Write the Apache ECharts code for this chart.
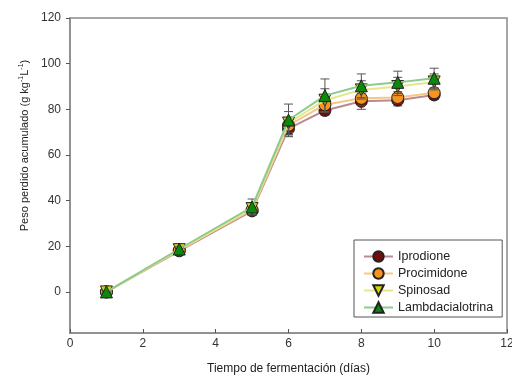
<!DOCTYPE html>
<html>
<head>
<meta charset="utf-8">
<script src="https://cdn.jsdelivr.net/npm/echarts@6/dist/echarts.min.js"></script>
<style>html,body{margin:0;padding:0;background:#fff}#c{width:512px;height:383px}</style>
</head>
<body>
<div id="c"></div>
<script>
var days = [1, 3, 5, 6, 7, 8, 9, 10];
var seriesNames = ['Iprodione', 'Procimidone', 'Spinosad', 'Lambdacialotrina'];
var iprodione = [0, 18.0, 35.5, 71.5, 79.5, 83.5, 84.0, 86.3];
var procimidone = [0, 18.3, 36.0, 73.0, 82.0, 84.8, 85.2, 87.3];
var spinosad = [0, 18.5, 36.5, 74.0, 84.0, 88.5, 90.0, 92.0];
var lambdacialotrina = [0, 18.8, 37.2, 75.3, 86.0, 90.3, 91.8, 93.6];
var errIprodione = [0.5, 1.0, 2.0, 3.5, 2.0, 3.5, 2.5, 2.0];
var errProcimidone = [0.5, 1.0, 2.0, 3.0, 2.0, 3.0, 2.5, 2.0];
var errSpinosad = [0.5, 1.0, 2.5, 5.0, 5.0, 4.0, 4.0, 3.5];
var errLambdacialotrina = [0.5, 1.0, 3.5, 7.0, 7.3, 5.2, 4.9, 4.4];
var yTickValues = [0, 20, 40, 60, 80, 100, 120];

var allValues = [iprodione, procimidone, spinosad, lambdacialotrina];
var allErrors = [errIprodione, errProcimidone, errSpinosad, errLambdacialotrina];
var fillColors = ['#7a0a0a', '#f7941d', '#d6d600', '#0a8a0a'];
var lineColors = ['#b88a92', '#f5c889', '#e6e68a', '#8ccb8c'];
var symbols = ['circle', 'circle', 'triangle', 'triangle'];
var symbolRotate = [0, 0, 180, 0];
var symbolSizes = [12, 12, 12, 12];

function pairs(vals) { return days.map(function (d, i) { return [d, vals[i]]; }); }

var series = [];
allValues.forEach(function (vals, k) {
  series.push({
    type: 'custom',
    silent: true,
    z: 2 + k * 2,
    data: days.map(function (d, i) { return [d, vals[i] - allErrors[k][i], vals[i] + allErrors[k][i]]; }),
    renderItem: function (params, api) {
      var x = api.value(0);
      var lo = api.coord([x, api.value(1)]);
      var hi = api.coord([x, api.value(2)]);
      var w = 4.5;
      var st = { stroke: '#555', lineWidth: 1 };
      return {
        type: 'group',
        children: [
          { type: 'line', shape: { x1: lo[0], y1: lo[1], x2: hi[0], y2: hi[1] }, style: st },
          { type: 'line', shape: { x1: hi[0] - w, y1: hi[1], x2: hi[0] + w, y2: hi[1] }, style: st },
          { type: 'line', shape: { x1: lo[0] - w, y1: lo[1], x2: lo[0] + w, y2: lo[1] }, style: st }
        ]
      };
    }
  });
});
allValues.forEach(function (vals, k) {
  series.push({
    name: seriesNames[k],
    type: 'line',
    z: 3 + k * 2,
    data: pairs(vals),
    symbol: symbols[k],
    symbolRotate: symbolRotate[k],
    symbolSize: symbolSizes[k],
    showSymbol: true,
    lineStyle: { color: lineColors[k], width: 2 },
    itemStyle: { color: fillColors[k], borderColor: '#222', borderWidth: 1 },
    emphasis: { disabled: true },
    animation: false
  });
});

var chart = echarts.init(document.getElementById('c'), null, { renderer: 'canvas' });
chart.setOption({
  animation: false,
  backgroundColor: '#fff',
  textStyle: { fontFamily: 'Liberation Sans, Arial, sans-serif' },
  grid: { left: 70, top: 18, width: 437, height: 315, outerBoundsMode: 'none', containLabel: false, show: true, borderColor: '#8a8a8a', borderWidth: 1.5, backgroundColor: 'transparent' },
  xAxis: {
    type: 'value', min: 0, max: 12, interval: 2,
    name: 'Tiempo de fermentación (días)', nameLocation: 'middle', nameGap: 30,
    nameTextStyle: { fontSize: 12, color: '#222' },
    axisLine: { show: true, onZero: false, lineStyle: { color: '#8a8a8a', width: 1.5 } },
    axisTick: { show: true, inside: true, length: 4, lineStyle: { color: '#555' } },
    axisLabel: { fontSize: 12, color: '#333', margin: 5 },
    splitLine: { show: false }
  },
  yAxis: {
    type: 'value', min: -18, max: 120,
    name: '{n|Peso perdido acumulado (g kg}{s|-1}{n|L}{s|-1}{n|)}', nameLocation: 'middle', nameGap: 39,
    nameTextStyle: {
      padding: [0, 0, 0, 60],
      rich: {
        n: { fontSize: 11, color: '#222', fontFamily: 'Liberation Sans' },
        s: { fontSize: 7, color: '#222', verticalAlign: 'bottom', padding: [0, 0, 6, 0], fontFamily: 'Liberation Sans' }
      }
    },
    axisLine: { show: true, onZero: false, lineStyle: { color: '#8a8a8a', width: 1.5 } },
    axisTick: { show: true, inside: false, length: 4, customValues: yTickValues, lineStyle: { color: '#555' } },
    axisLabel: { fontSize: 12, color: '#333', margin: 9, customValues: yTickValues },
    splitLine: { show: false }
  },
  legend: {
    show: true,
    orient: 'vertical',
    left: 354, top: 240,
    padding: [10, 9, 3, 9],
    itemGap: 4,
    itemWidth: 29,
    itemHeight: 13,
    borderColor: '#555',
    borderWidth: 1,
    textStyle: { fontSize: 12.5, color: '#222' },
    data: seriesNames
  },
  series: series
});
</script>
</body>
</html>
